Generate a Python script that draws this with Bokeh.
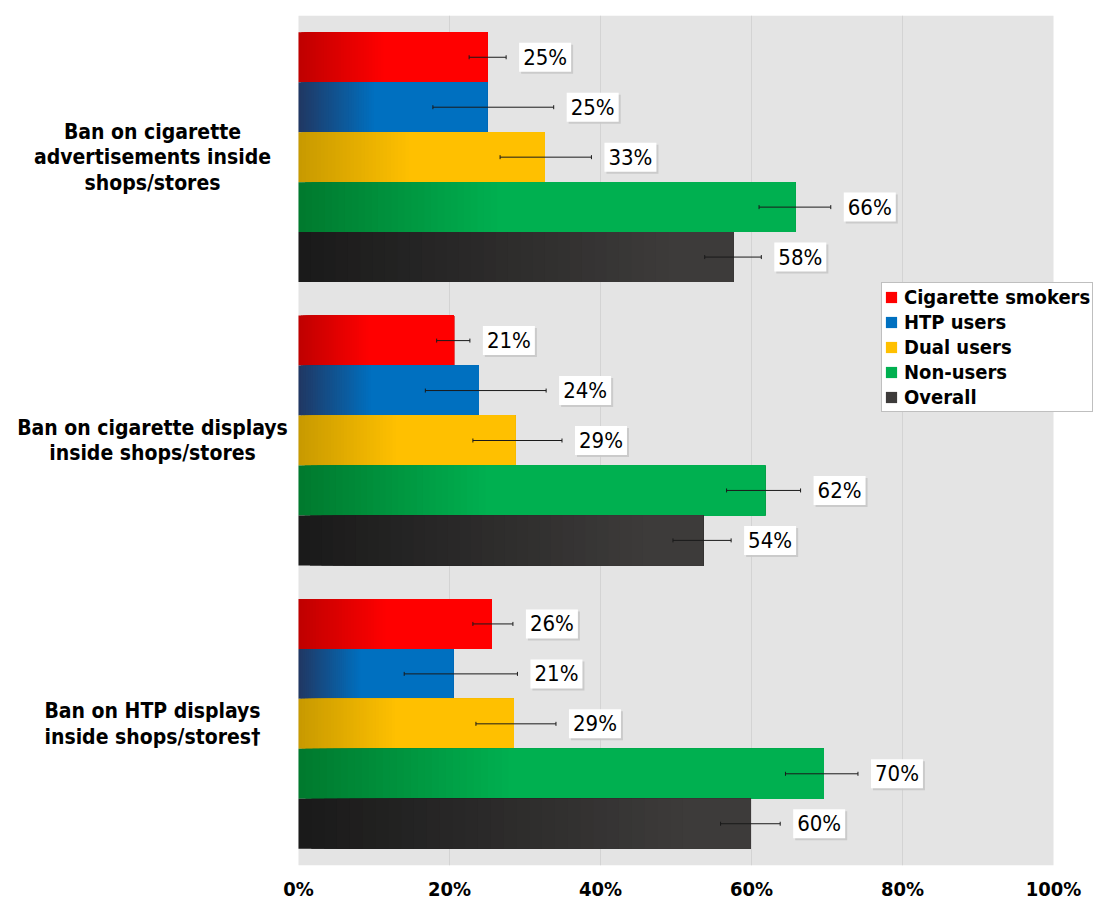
import numpy as np
from bokeh.plotting import figure
from bokeh.models import (Range1d, Label, Legend, LegendItem, Whisker,
                          ColumnDataSource, FixedTicker, TeeHead)
from bokeh.core.properties import value
from bokeh.embed import file_html
from bokeh.resources import INLINE

# ---------------- data ----------------
categories = ["Ban on cigarette\nadvertisements inside\nshops/stores",
              "Ban on cigarette displays\ninside shops/stores",
              "Ban on HTP displays\ninside shops/stores\u2020"]
series = ["Cigarette smokers", "HTP users", "Dual users", "Non-users", "Overall"]

cig = [25.0, 20.6, 25.6]
htp = [25.0, 23.9, 20.5]
dual = [32.6, 28.7, 28.5]
non = [65.8, 61.8, 69.6]
overall = [57.6, 53.6, 59.9]

cig_lo = [22.6, 18.3, 23.1]
cig_hi = [27.5, 22.7, 28.4]
htp_lo = [17.8, 16.8, 14.0]
htp_hi = [33.8, 32.8, 29.0]
dual_lo = [26.7, 23.1, 23.5]
dual_hi = [38.8, 34.9, 34.1]
non_lo = [61.0, 56.7, 64.5]
non_hi = [70.5, 66.5, 74.1]
overall_lo = [53.8, 49.6, 55.9]
overall_hi = [61.3, 57.3, 63.8]

cig_lbl = ["25%", "21%", "26%"]
htp_lbl = ["25%", "24%", "21%"]
dual_lbl = ["33%", "29%", "29%"]
non_lbl = ["66%", "62%", "70%"]
overall_lbl = ["58%", "54%", "60%"]

x_ticks = [0, 20, 40, 60, 80, 100]
x_tick_labels = ["0%", "20%", "40%", "60%", "80%", "100%"]

values = [cig, htp, dual, non, overall]
lows = [cig_lo, htp_lo, dual_lo, non_lo, overall_lo]
highs = [cig_hi, htp_hi, dual_hi, non_hi, overall_hi]
lbls = [cig_lbl, htp_lbl, dual_lbl, non_lbl, overall_lbl]

# ---------------- layout / styles ----------------
W, H = 1104, 903
X0_PX, X100_PX = 298, 1053            # pixel positions of 0% and 100%
PPU = (X100_PX - X0_PX) / 100.0       # pixels per percent
TOP_PX, BOT_PX = 15, 866

bright = ["#ff0000", "#0070c0", "#ffc000", "#00b050", "#3d3b3a"]
dark = ["#c00000", "#203864", "#c89a00", "#007a2e", "#1a1a1a"]
grad_frac = [0.45, 0.40, 0.45, 0.40, 0.85]
BAR_H = 0.1763
N_STEPS = 30

FONT = "DejaVu Sans Condensed"

p = figure(width=W, height=H, output_backend="svg", toolbar_location=None,
           x_range=Range1d(-X0_PX / PPU, (W - X0_PX) / PPU), y_range=Range1d(0, 3),
           min_border_left=0, min_border_right=0, min_border_top=TOP_PX,
           min_border_bottom=H - BOT_PX)
p.background_fill_color = "white"
p.border_fill_color = "white"
p.outline_line_color = None
p.grid.visible = False
p.yaxis.visible = False

p.xaxis.ticker = FixedTicker(ticks=x_ticks)
p.xaxis.major_label_overrides = {t: l for t, l in zip(x_ticks, x_tick_labels)}
p.xaxis.axis_line_color = None
p.xaxis.major_tick_line_color = None
p.xaxis.major_tick_out = 0
p.xaxis.major_tick_in = 0
p.xaxis.minor_tick_line_color = None
p.xaxis.major_label_text_font = FONT
p.xaxis.major_label_text_font_style = "bold"
p.xaxis.major_label_text_font_size = "20px"
p.xaxis.major_label_text_color = "black"
p.xaxis.major_label_standoff = 11

# plot-area background (0%..100%) and vertical grid lines
p.quad(left=[x_ticks[0]], right=[x_ticks[-1]], bottom=[0], top=[3],
       fill_color="#e4e4e4", line_color=None)
p.segment(x0=x_ticks[1:-1], x1=x_ticks[1:-1], y0=[0] * 4, y1=[3] * 4,
          line_color="#d3d3d3", line_width=1)


def mix(c1, c2, t):
    a = [int(c1[i:i + 2], 16) for i in (1, 3, 5)]
    b = [int(c2[i:i + 2], 16) for i in (1, 3, 5)]
    return "#%02x%02x%02x" % tuple(int(round(a[j] + (b[j] - a[j]) * t)) for j in range(3))


def make_label(**kw):
    pad = kw.pop("pad")
    try:
        return Label(padding=dict(left=pad[0], right=pad[1], top=pad[2], bottom=pad[3]), **kw)
    except Exception:
        return Label(padding=(pad[0], pad[2]), **kw)


legend_items = []
for s in range(5):
    ys, lefts, rights, colors = [], [], [], []
    for g in range(3):
        yc = 2.5 - g + (2 - s) * BAR_H
        v = values[s][g]
        for k in range(N_STEPS + 1):
            t = k / N_STEPS
            ys.append(yc)
            lefts.append(v * grad_frac[s] * t)
            rights.append(v)
            colors.append(mix(dark[s], bright[s], t))
    src = ColumnDataSource(dict(y=ys, left=lefts, right=rights, color=colors))
    r = p.hbar(y="y", left="left", right="right", height=BAR_H, source=src,
               fill_color="color", line_color=None)
    legend_items.append(LegendItem(label=series[s], renderers=[r], index=len(ys) - 1))

    # error bars
    ey = [2.5 - g + (2 - s) * BAR_H for g in range(3)]
    esrc = ColumnDataSource(dict(y=ey, lo=lows[s], hi=highs[s]))
    w = Whisker(source=esrc, base="y", lower="lo", upper="hi", dimension="width",
                line_color="#1a1a1a", line_width=1, level="annotation",
                upper_head=TeeHead(size=4, line_color="#1a1a1a", line_width=1),
                lower_head=TeeHead(size=4, line_color="#1a1a1a", line_width=1))
    p.add_layout(w)

    # value labels with a soft shadow
    for g in range(3):
        yv = ey[g]
        sh = make_label(x=highs[s][g], y=yv, x_offset=15, y_offset=-2, text=lbls[s][g],
                        text_font=FONT, text_font_size="22px", text_color="#c8c8c8",
                        text_align="left", text_baseline="middle",
                        background_fill_color="#c8c8c8", background_fill_alpha=0.9,
                        text_alpha=0.9, pad=(4, 4, 2, 2))
        lb = make_label(x=highs[s][g], y=yv, x_offset=13, y_offset=0, text=lbls[s][g],
                        text_font=FONT, text_font_size="22px", text_color="black",
                        text_align="left", text_baseline="middle",
                        background_fill_color="white", pad=(4, 4, 2, 2))
        p.add_layout(sh)
        p.add_layout(lb)

# category labels (left of the bars)
cat_x = [(152 - X0_PX) / PPU] * 3
cat_y = [2.5 - g for g in range(3)]
p.text(x=cat_x, y=cat_y, text=categories, text_font=value(FONT),
       text_font_style="bold", text_font_size="21px", text_color="black",
       text_align="center", text_baseline="middle", text_line_height=1.06)

legend = Legend(items=legend_items, location=(881, BOT_PX - 413), orientation="vertical")
legend.label_text_font = FONT
legend.label_text_font_style = "bold"
legend.label_text_font_size = "20px"
legend.label_text_color = "black"
legend.glyph_width = 14
legend.glyph_height = 14
legend.label_height = 20
legend.spacing = 1
legend.padding = 2
legend.margin = 0
legend.label_standoff = 6
legend.border_line_color = "#808080"
legend.border_line_width = 1
legend.background_fill_color = "white"
legend.background_fill_alpha = 1.0
p.add_layout(legend)

open("out.html", "w").write(file_html(p, INLINE))
